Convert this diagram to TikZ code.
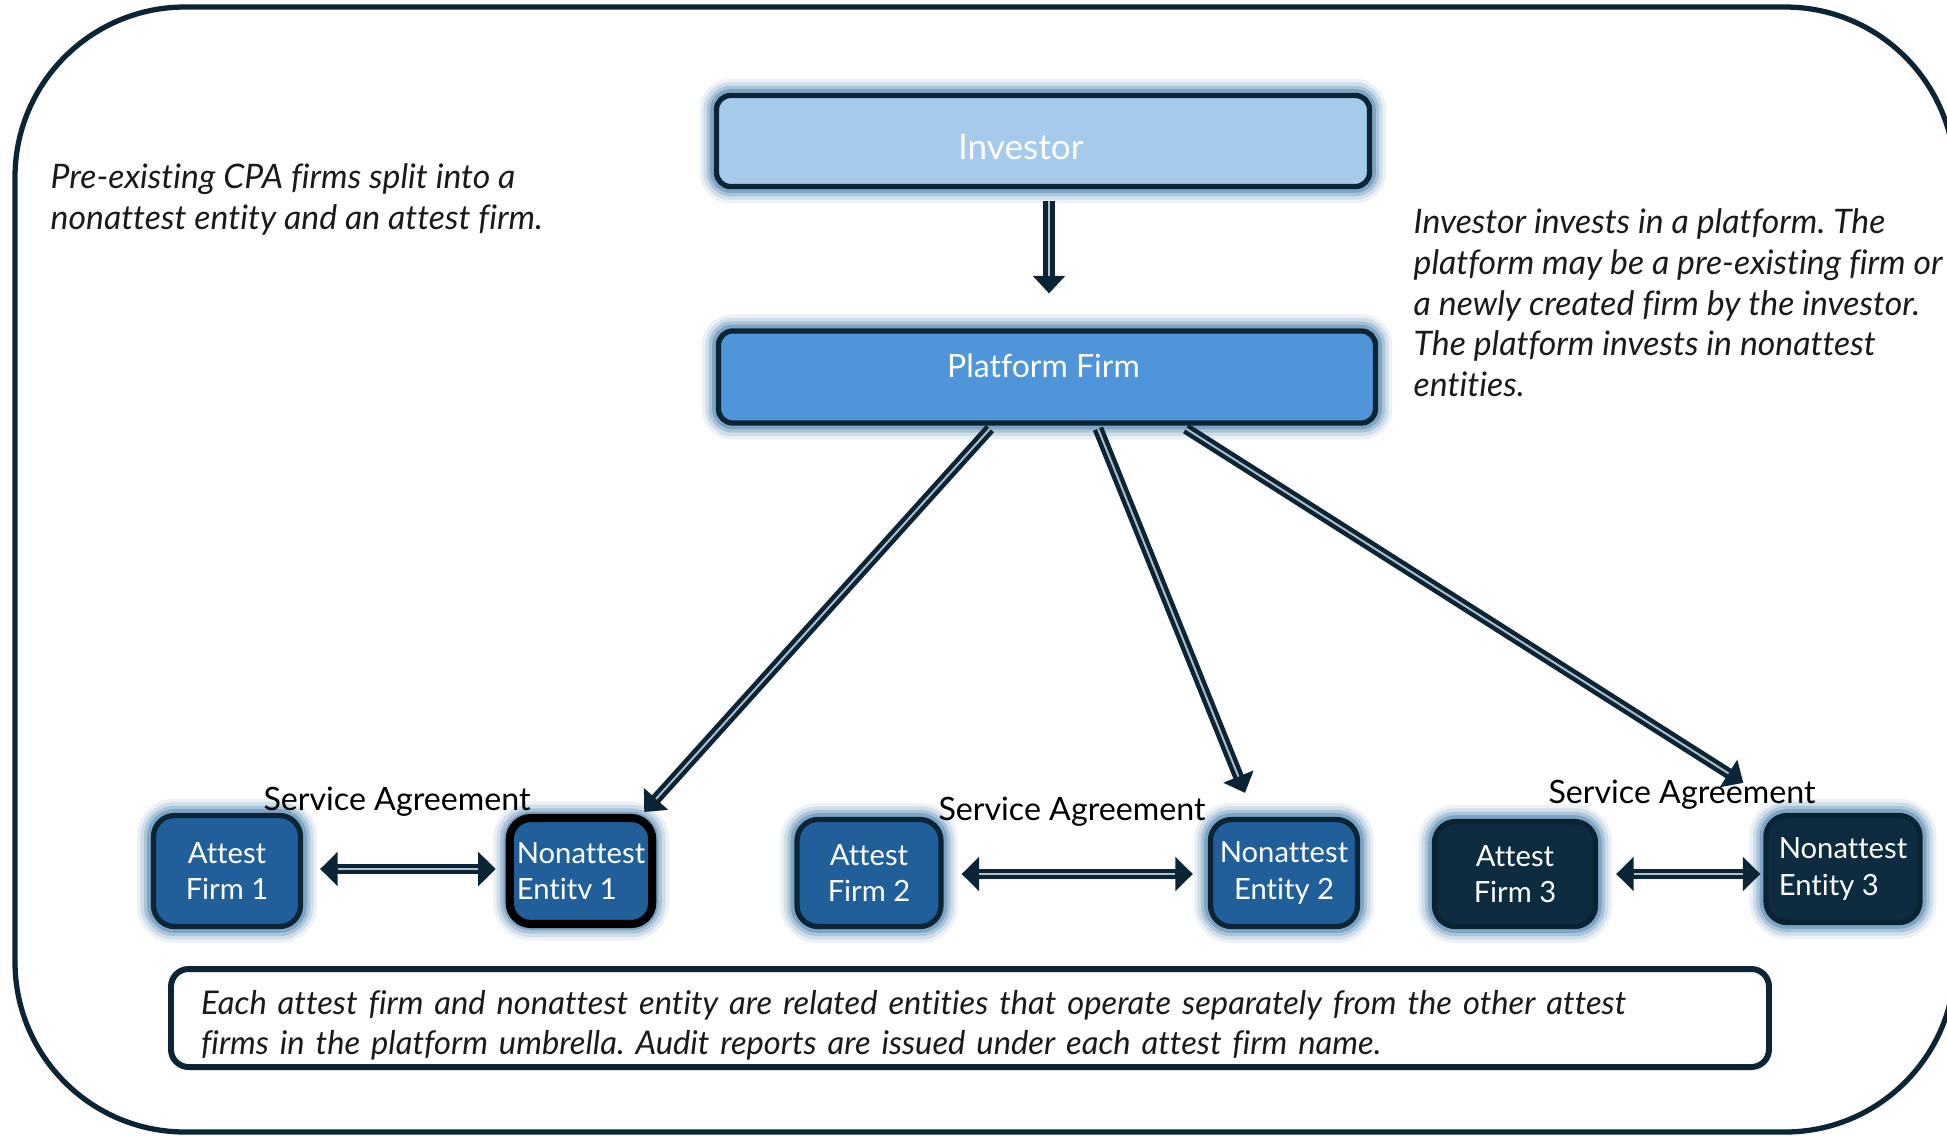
\documentclass[tikz,border=0pt]{standalone}
\usepackage{fontspec}
\setmainfont{Lato}[Ligatures=NoCommon]
\usetikzlibrary{arrows.meta,calc}
\definecolor{navy}{HTML}{0B2536}
\definecolor{invfill}{HTML}{A6CAEC}
\definecolor{platfill}{HTML}{4E95D9}
\definecolor{boxfill}{HTML}{215F9A}
\definecolor{darkfill}{HTML}{0D2C40}
\definecolor{glowc}{HTML}{3F7BA8}
\definecolor{innerc}{HTML}{AFC0CC}
\definecolor{notec}{HTML}{1A1A1A}
\tikzset{
  glow/.style={
    preaction={draw=glowc, draw opacity=0.10, line width=9.5pt},
    preaction={draw=glowc, draw opacity=0.16, line width=7.5pt},
    preaction={draw=glowc, draw opacity=0.26, line width=5.5pt},
    preaction={draw=glowc, draw opacity=0.40, line width=3.6pt}},
  bigbox/.style={glow, draw=navy, line width=1.5pt, rounded corners=4pt,
    text=white, font=\fontsize{10}{12}\selectfont},
  smallbox/.style={glow, draw=navy, line width=1.5pt, rounded corners=6pt,
    fill=boxfill, text=white, align=center, inner sep=2pt,
    font=\fontsize{8.3}{10.3}\selectfont},
  darkbox/.style={smallbox, fill=darkfill, draw=darkfill!80!black},
  noteitalic/.style={font=\fontsize{9.6}{11.6}\selectfont\itshape, text=notec,
    align=left, inner sep=0pt},
  salabel/.style={font=\fontsize{9.15}{11}\selectfont, text=black, inner sep=0pt},
  shaft/.style={draw=navy, line width=3.1pt},
  headone/.style={-{Triangle[length=5pt, width=9pt]}},
  headtwo/.style={{Triangle[length=5pt, width=9.5pt]}-{Triangle[length=5pt, width=9.5pt]}},
  innerline/.style={draw=innerc, line width=0.55pt},
  frame/.style={draw=navy, line width=1.5pt, rounded corners=1.7cm}
}
\frenchspacing
\begin{document}
\begin{tikzpicture}[x=0.01cm, y=-0.01cm]
\useasboundingbox (0,0) rectangle (1947,1135);
\clip (0,0) rectangle (1947,1135);
\fill[white] (0,0) rectangle (1947,1135);
\draw[frame] (15,7) rectangle (1955,1132);

% top boxes
\node[bigbox, fill=invfill, minimum width=653*0.01cm, minimum height=91*0.01cm] (inv) at (1043,141)
  {\raisebox{-1.8pt}[\height][\depth]{Investor}\kern12.6pt};
\node[bigbox, fill=platfill, font=\fontsize{9.1}{11}\selectfont, minimum width=657*0.01cm, minimum height=92*0.01cm] (plat) at (1047,377)
  {\raisebox{3.2pt}[\height][\depth]{Platform Firm}\kern2pt};

% bottom boxes
\node[smallbox, minimum width=147*0.01cm, minimum height=111*0.01cm] (af1) at (227,871) {Attest\\Firm 1};
\node[smallbox, draw=black, line width=2.3pt, align=left, minimum width=138*0.01cm, minimum height=106*0.01cm] (ne1) at (581,871) {Nonattest\\Entitv 1};
\node[smallbox, minimum width=144*0.01cm, minimum height=107*0.01cm] (af2) at (869,873) {Attest\\Firm 2};
\node[smallbox, minimum width=147*0.01cm, minimum height=107*0.01cm] (ne2) at (1284,873) {Nonattest\\Entity 2};
\node[darkbox, minimum width=161*0.01cm, minimum height=105*0.01cm] (af3) at (1515,874) {Attest\\Firm 3};
\node[darkbox, align=left, minimum width=154*0.01cm, minimum height=107*0.01cm] (ne3) at (1843,869) {Nonattest\\Entity 3};

% note box
\node[draw=navy, line width=1.7pt, rounded corners=5pt, fill=white,
      minimum width=1598*0.01cm, minimum height=98*0.01cm,
      text width=1538*0.01cm, inner xsep=30*0.01cm, inner ysep=1pt, align=left,
      font=\fontsize{9.3}{11.4}\selectfont\itshape, text=notec] (note) at (970,1018)
  {\rule{0pt}{11pt}Each attest firm and nonattest entity are related entities that operate separately from the other attest\\
   firms in the platform umbrella. Audit reports are issued under each attest firm name.};

% side notes
\node[noteitalic, anchor=north west] (leftnote) at (50,163)
  {Pre-existing CPA firms split into a\\nonattest entity and an attest firm.};
\node[noteitalic, anchor=north west] (rightnote) at (1413,208)
  {Investor invests in a platform. The\\platform may be a pre-existing firm or\\a newly created firm by the investor.\\The platform invests in nonattest\\entities.};

% investor -> platform
\draw[shaft, line width=3.4pt, headone] ($(inv.south)+(6,12)$) -- ($(plat.north)+(2,-35)$);
\draw[innerline, shorten >=5pt] ($(inv.south)+(6,12)$) -- ($(plat.north)+(2,-35)$);

% platform -> nonattest entities
\coordinate (s1) at ($(plat.south)+(-57,3)$);
\coordinate (s2) at ($(plat.south)+(51,3)$);
\coordinate (s3) at ($(plat.south)+(139,3)$);
\coordinate (t1) at ($(ne1.north east)+(-12,-2)$);
\coordinate (t2) at ($(ne2.north)+(-39,-24)$);
\coordinate (t3) at ($(ne3.north west)+(-20,-30)$);
\foreach \a/\b in {s1/t1, s2/t2, s3/t3}{
  \draw[shaft, headone] (\a) -- (\b);
  \draw[innerline, shorten >=5pt] (\a) -- (\b);
}

% service agreements
\coordinate (h1a) at ($(af1.east)+(17,-2)$);
\coordinate (h1b) at ($(ne1.west)+(-10,-2)$);
\coordinate (h2a) at ($(af2.east)+(18,1)$);
\coordinate (h2b) at ($(ne2.west)+(-15,1)$);
\coordinate (h3a) at ($(af3.east)+(18,0)$);
\coordinate (h3b) at ($(ne3.west)+(-3,5)$);
\foreach \a/\b in {h1a/h1b, h2a/h2b, h3a/h3b}{
  \draw[shaft, headtwo] (\a) -- (\b);
  \draw[innerline, shorten >=5pt, shorten <=5pt] (\a) -- (\b);
}
\node[salabel] (sa1) at (397,802) {Service Agreement};
\node[salabel] (sa2) at (1072,812) {Service Agreement};
\node[salabel] (sa3) at (1682,795) {Service Agreement};
\end{tikzpicture}
\end{document}
